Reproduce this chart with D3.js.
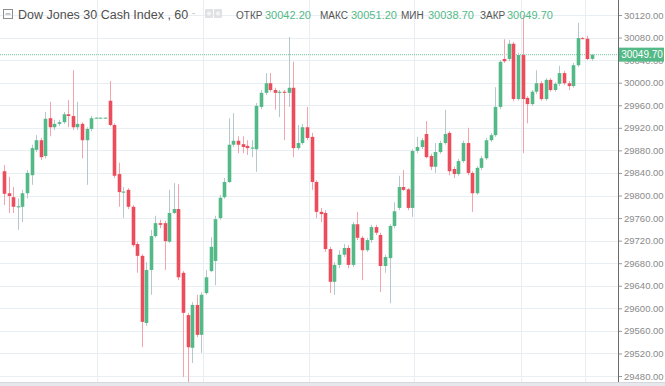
<!DOCTYPE html>
<html><head><meta charset="utf-8">
<script src="https://cdn.jsdelivr.net/npm/d3@7"></script>
<style>body{margin:0;background:#fff;overflow:hidden}svg{display:block}</style>
</head><body><svg id="c" width="665" height="386"></svg>
<script>
// ---- data (hourly candles) ----
const opens  = [29843,29804,29797,29779,29780,29804,29836,29881,29898,29870,29937,29921,29927,29930,29944,29941,29921,29927,29898,29918,29937,29937,29937,29968,29925,29838,29805,29810,29780,29714,29693,29574,29668,29728,29751,29751,29718,29769,29776,29663,29588,29530,29606,29553,29627,29666,29684,29760,29797,29824,29890,29897,29891,29888,29883,29882,29957,29982,29999,29987,29982,29984,29982,29991,29884,29893,29921,29904,29824,29771,29769,29705,29647,29677,29695,29707,29677,29749,29725,29703,29721,29744,29730,29675,29689,29746,29778,29815,29811,29778,29879,29886,29909,29870,29851,29877,29893,29911,29847,29838,29861,29893,29840,29804,29849,29866,29898,29907,29957,30042,30042,30069,29971,30049,29973,29962,29984,29999,29971,30005,29987,29998,30017,29999,29994,30031,30079,30078,30042.2];
const highs  = [29854,29833,29815,29795,29810,29845,29890,29907,29902,29948,29966,29934,29934,29948,29969,30022,29966,29930,29921,29941,29938,29938,29938,30003,29928,29858,29815,29813,29783,29718,29696,29682,29739,29764,29757,29755,29810,29822,29820,29666,29592,29611,29624,29629,29668,29726,29764,29801,29831,29937,29946,29905,29905,29898,29898,29964,29987,30017,30017,29991,29987,29987,30081,30037,29925,29927,29957,29911,29827,29778,29774,29709,29682,29703,29714,29712,29753,29771,29728,29725,29748,29748,29734,29695,29749,29788,29835,29845,29813,29882,29904,29902,29932,29874,29893,29897,29952,29914,29851,29865,29897,29920,29843,29852,29870,29902,29911,29992,30040,30077,30076,30072,30053,30120,29976,29987,30022,30003,30008,30008,30001,30030,30021,30003,30035,30106,30081,30083,30051.2];
const lows   = [29783,29769,29769,29739,29753,29795,29819,29877,29863,29866,29905,29916,29923,29927,29921,29916,29916,29866,29819,29914,29936,29936,29936,29923,29831,29780,29760,29776,29709,29663,29531,29569,29624,29725,29742,29668,29716,29767,29650,29478,29467,29503,29549,29521,29624,29664,29641,29757,29794,29822,29886,29875,29875,29872,29868,29842,29953,29978,29984,29952,29939,29898,29957,29868,29881,29890,29898,29810,29760,29753,29700,29627,29624,29671,29691,29671,29673,29721,29650,29700,29716,29730,29629,29663,29609,29742,29774,29808,29774,29762,29875,29882,29866,29845,29840,29874,29890,29836,29831,29835,29858,29836,29771,29801,29845,29863,29895,29904,29953,30035,30038,29967,29968,29875,29928,29959,29980,29968,29968,29984,29984,29994,29996,29987,29991,30028,30077,30040,30038.7];
const closes = [29803,29799,29780,29781,29804,29840,29884,29898,29868,29936,29921,29927,29930,29944,29941,29921,29927,29898,29918,29937,29938,29938,29938,29925,29835,29806,29807,29780,29712,29693,29576,29668,29728,29751,29748,29719,29769,29776,29655,29592,29531,29606,29553,29624,29655,29709,29758,29796,29824,29890,29897,29890,29886,29884,29885,29959,29982,29999,29987,29982,29984,29982,29991,29884,29893,29921,29902,29824,29771,29767,29705,29647,29677,29695,29707,29677,29749,29725,29703,29721,29744,29734,29675,29691,29746,29772,29815,29810,29778,29879,29886,29898,29868,29851,29877,29893,29909,29843,29838,29861,29893,29840,29804,29849,29866,29898,29907,29957,30037,30038,30069,29971,30049,29971,29962,29984,29999,29971,30005,29987,29998,30017,29999,29994,30031,30079,30078,30042,30049.7];
const yTicks = [30120,30080,30040,30000,29960,29920,29880,29840,29800,29760,29720,29680,29640,29600,29560,29520,29480];
const timeGrid = [20.3,43.4,66.4,89.3,112.6,126.6];
const title = "Dow Jones 30 Cash Index , 60";
const ohlcLabels = ["ОТКР","МАКС","МИН","ЗАКР"];
const ohlcValues = [30042.20,30051.20,30038.70,30049.70];
const lastPrice = 30049.70;

const candles = opens.map((o,i)=>({i,o,h:highs[i],l:lows[i],c:closes[i]}));

const svg = d3.select("#c");
const plotR = 618, plotB = 382;
const x = d3.scaleLinear().domain([0,128]).range([4,591.5]);
const y = d3.scaleLinear().domain([29480,30120]).range([376,15]);
const UP="#53b987", DN="#eb4d5c", UPW="#b5c9cc", DNW="#f5a3ab";

svg.append("rect").attr("width",665).attr("height",386).attr("fill","#fff");

// grid
const g = svg.append("g");
g.selectAll("line.h").data(yTicks).join("line")
  .attr("x1",0).attr("x2",plotR).attr("y1",d=>Math.round(y(d))+0.5).attr("y2",d=>Math.round(y(d))+0.5)
  .attr("stroke","#e9eef3").attr("stroke-width",1);
g.selectAll("line.v").data(timeGrid).join("line")
  .attr("x1",d=>Math.round(x(d))+0.5).attr("x2",d=>Math.round(x(d))+0.5).attr("y1",0).attr("y2",plotB)
  .attr("stroke","#e9eef3").attr("stroke-width",1);

// last price dotted line
svg.append("line").attr("x1",0).attr("x2",plotR).attr("y1",y(lastPrice)).attr("y2",y(lastPrice))
  .attr("stroke",UP).attr("stroke-width",1).attr("stroke-dasharray","1,1").attr("opacity",0.8);

// candles
const bw = 3.6;
const cg = svg.append("g");
cg.selectAll("line.w").data(candles).join("line")
  .attr("x1",d=>Math.round(x(d.i))+0.5).attr("x2",d=>Math.round(x(d.i))+0.5)
  .attr("y1",d=>y(d.h)).attr("y2",d=>y(d.l))
  .attr("stroke",d=>d.c>=d.o?UPW:DNW).attr("stroke-width",1);
cg.selectAll("rect.b").data(candles).join("rect")
  .attr("x",d=>Math.round(x(d.i))+0.5-bw/2).attr("width",bw)
  .attr("y",d=>y(Math.max(d.o,d.c)))
  .attr("height",d=>Math.max(1,y(Math.min(d.o,d.c))-y(Math.max(d.o,d.c))))
  .attr("fill",d=>d.c>=d.o?UP:DN);

// right axis
const axis = d3.axisRight(y).tickValues(yTicks).tickFormat(d3.format(".2f")).tickSize(4).tickPadding(2);
const ag = svg.append("g").attr("transform",`translate(${plotR},0)`).call(axis);
ag.select(".domain").remove();
ag.selectAll(".tick line").attr("stroke","#9a9a9a");
ag.selectAll(".tick text").attr("fill","#8a8a8a").attr("font-family","Liberation Sans, Arial, sans-serif").attr("font-size","9.5px");
svg.append("line").attr("x1",plotR+0.5).attr("x2",plotR+0.5).attr("y1",0).attr("y2",plotB).attr("stroke","#6b6b6b");

// price label
const pl = svg.append("g");
pl.append("rect").attr("x",plotR+1).attr("y",y(lastPrice)-7).attr("width",45).attr("height",14).attr("fill",UP);
pl.append("text").attr("x",plotR+24).attr("y",y(lastPrice)+3.5).attr("text-anchor","middle")
  .attr("fill","#fff").attr("font-family","Liberation Sans, Arial, sans-serif").attr("font-size","10px").text(d3.format(".2f")(lastPrice));

// bottom strip
svg.append("rect").attr("x",0).attr("y",plotB).attr("width",665).attr("height",386-plotB).attr("fill","#e6e8eb");
svg.append("line").attr("x1",0).attr("x2",665).attr("y1",plotB+0.5).attr("y2",plotB+0.5).attr("stroke","#d4d7db");

// header
const hd = svg.append("g").attr("font-family","Liberation Sans, Arial, sans-serif");
hd.append("rect").attr("x",3.5).attr("y",9.5).attr("width",9).attr("height",9).attr("fill","none").attr("stroke","#8d8d8d");
hd.append("line").attr("x1",5.5).attr("x2",10.5).attr("y1",14).attr("y2",14).attr("stroke","#8d8d8d");
hd.append("text").attr("x",18).attr("y",19).attr("fill","#4f4f4f").attr("font-size","12.5px").text(title);
hd.append("text").attr("x",192).attr("y",16).attr("fill","#b0b0b0").attr("font-size","9px").text("-");
[205,214].forEach(px=>{
  hd.append("rect").attr("x",px).attr("y",9).attr("width",8).attr("height",9).attr("rx",1).attr("fill","#dfe1e4");
  hd.append("circle").attr("cx",px+4).attr("cy",13.5).attr("r",2).attr("fill","#f4f5f6");
});
const lx=[236,320,401,480], vx=[265,351,428,507];
ohlcLabels.forEach((t,k)=>{
  hd.append("text").attr("x",lx[k]).attr("y",19).attr("fill","#555").attr("font-size","10px").text(t);
  hd.append("text").attr("x",vx[k]).attr("y",19).attr("fill",UP).attr("font-size","11px").text(d3.format(".2f")(ohlcValues[k]));
});
</script></body></html>
